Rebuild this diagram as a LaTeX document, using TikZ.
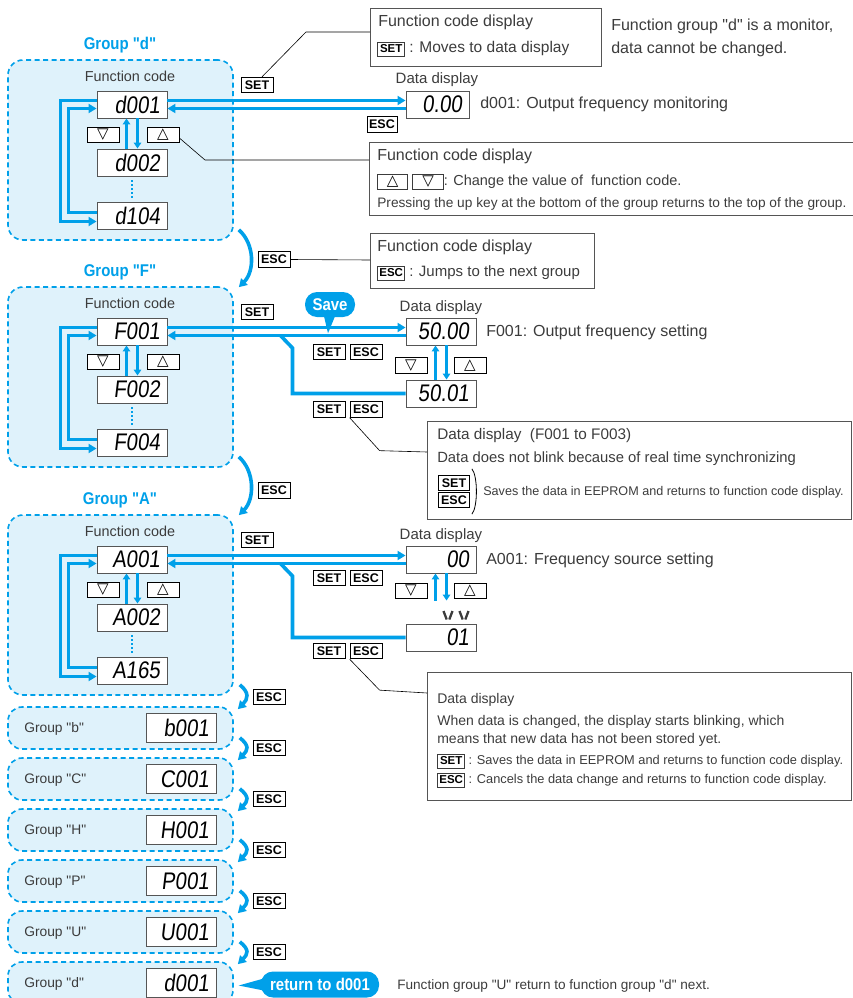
\documentclass[tikz,border=0pt]{standalone}
\usepackage{fontspec}
\setmainfont[Ligatures=TeXOff]{Liberation Sans}
\newfontfamily\condfont[FakeStretch=0.88,Ligatures=TeXOff]{Liberation Sans}
\newfontfamily\segfont[FakeStretch=0.85,FakeSlant=0.12]{Liberation Sans}
\newfontfamily\symfont{DejaVu Sans}
\usetikzlibrary{arrows.meta}
\definecolor{hcyan}{RGB}{0,160,233}
\definecolor{hpale}{RGB}{223,242,251}
\definecolor{inkgray}{RGB}{60,60,60}
\definecolor{framegray}{RGB}{85,85,85}
\newcommand{\fhdr}{\fontsize{16}{18}\selectfont}
\newcommand{\fbody}{\fontsize{14}{16}\selectfont}
\newcommand{\fsml}{\fontsize{13}{15}\selectfont}
\newcommand{\keyfont}{\fontsize{12.5}{13}\selectfont\bfseries}
\newcommand{\inkeyfont}{\fontsize{11.5}{12}\selectfont\bfseries}
\newcommand{\trdn}{{\symfont\fontsize{15}{15}\selectfont ▽}}
\newcommand{\trup}{{\symfont\fontsize{15}{15}\selectfont △}}
\newcommand{\keybox}[2][24pt]{{\setlength{\fboxsep}{1.2pt}\setlength{\fboxrule}{.7pt}%
 \fbox{\makebox[#1]{\color{black}\inkeyfont\rule[-2pt]{0pt}{11pt}#2}}}}
\tikzset{
 every picture/.style={line width=.6pt},
 txt/.style={text=inkgray,inner sep=0pt},
 grplbl/.style={text=hcyan,inner sep=0pt,font=\condfont\fontsize{17}{18}\selectfont\bfseries},
 grpbox/.style={draw=hcyan,fill=hpale,line width=1.6pt,dash pattern=on 5pt off 3.5pt,
  rounded corners=15pt,inner sep=0pt,minimum width=225pt},
 disp/.style={draw=framegray,fill=white,line width=.9pt,minimum width=70pt,minimum height=27pt,
  inner xsep=7pt,inner ysep=0pt,text width=56pt,align=right,font=\segfont\fontsize{24}{24}\selectfont},
 key/.style={draw=black,fill=white,line width=.8pt,minimum width=32pt,minimum height=15.5pt,
  inner sep=0pt,font=\keyfont},
 note/.style={draw=framegray,line width=.8pt,inner sep=0pt},
 lead/.style={draw=black,line width=.6pt},
 flow/.style={draw=hcyan,line width=3.6pt},
 flowarr/.style={flow,-{Triangle[length=8pt,width=9pt]}},
 updn/.style={draw=hcyan,line width=3pt,-{Triangle[length=6pt,width=7.5pt]}},
 dots/.style={draw=hcyan,line width=2pt,dash pattern=on 2pt off 2pt},
 bubble/.style={fill=hcyan,text=white,rounded corners=12pt,inner sep=0pt,
  font=\condfont\fontsize{17}{18}\selectfont\bfseries}
}

\begin{document}
\begin{tikzpicture}[x=1pt,y=-1pt]
 \useasboundingbox (0,0) rectangle (852,998);

 % The three open groups: d, F and A.
 \foreach \g/\yy/\ca/\cb/\cc in {d/0/d001/d002/d104,F/227/F001/F002/F004,A/455/A001/A002/A165}{
  \begin{scope}[shift={(0,\yy)}]
   \node[grplbl] (lbl\g) at (120,45) {Group "\g"};
   \node[grpbox,minimum height=180pt] (box\g) at (120.5,150) {};
   \node[txt,font=\fontsize{14.4}{16}\selectfont] (fc\g) at (130,76) {Function code};
   \node[disp] (top\g) at (132,104.5) {\ca};
   \node[disp] (mid\g) at (132,162.5) {\cb};
   \node[disp] (bot\g) at (132,215.5) {\cc};
   \node[key] (dn\g) at (103,135) {\trdn};
   \node[key] (up\g) at (163,135) {\trup};
   \draw[updn] ([xshift=-5.5pt]mid\g.north) -- ([xshift=-5.5pt]top\g.south);
   \draw[updn] ([xshift=5.5pt]top\g.south) -- ([xshift=5.5pt]mid\g.north);
   \draw[dots] ([yshift=-4pt]mid\g.south) -- ([yshift=3pt]bot\g.north);
   \draw[flowarr] ([yshift=4pt]top\g.west) -- ++(-36,0) |- ([yshift=-6pt]bot\g.west);
   \draw[flowarr] ([yshift=3pt]bot\g.west) -- ++(-28,0) |- ([yshift=-4pt]top\g.west);
   \node[key] (set\g) at (257,85) {SET};
  \end{scope}
 }

 % Group d: monitor only.
 \node[txt,font=\fontsize{15}{17}\selectfont] (ddl) at (437,80) {Data display};
 \node[disp,minimum width=63pt,text width=49pt] (datd) at (437.5,104.5) {0.00};
 \node[txt,anchor=west,font=\fontsize{16}{18}\selectfont] (dtx) at (480,104.5)
  {d001: Output frequency monitoring};
 \draw[flowarr] ([yshift=4pt]topd.east) -- ([yshift=4pt]datd.west);
 \draw[flowarr] ([yshift=-4pt]datd.west) -- ([yshift=-4pt]topd.east);
 \node[key,minimum width=30pt] (escdat) at (382,124.5) {ESC};

 \node[note,minimum width=231pt,minimum height=58pt,anchor=north west] (ncode) at (370,8) {};
 \node[txt,anchor=west,font=\fhdr] (ncode1) at (378,22) {Function code display};
 \node[txt,anchor=west,font=\fontsize{15.5}{17}\selectfont] (ncode2) at (377,49)
  {\keybox{SET} : Moves to data display};
 \draw[lead] ([yshift=-24pt]ncode.north west) -- ++(-64,0) -- ([xshift=5pt]setd.north);
 \node[txt,anchor=west,font=\fhdr] (mon1) at (611,26) {Function group "d" is a monitor,};
 \node[txt,anchor=west,font=\fhdr] (mon2) at (611,49) {data cannot be changed.};

 \node[note,minimum width=490pt,minimum height=73pt,anchor=north west] (nkeyd) at (369,142) {};
 \node[txt,anchor=west,font=\fhdr] (nkeyd1) at (377,156) {Function code display};
 \node[txt,anchor=west,font=\fontsize{14.5}{16}\selectfont] (nkeyd2) at (377,182)
  {\keybox[27pt]{\trup} \keybox[28pt]{\trdn}: Change the value of\ \ function code.};
 \node[txt,anchor=west,font=\fontsize{13.7}{16}\selectfont] (nkeyd3) at (377,204)
  {Pressing the up key at the bottom of the group returns to the top of the group.};
 \draw[lead] ([yshift=-18pt]nkeyd.north west) -- ++(-164,0) -- ([yshift=-3pt]upd.east);

 % Jumps between the open groups.
 \draw[flowarr] ([xshift=5pt,yshift=11pt]boxd.south east) .. controls +(16,14) and +(16,-16)
  .. ([xshift=5pt,yshift=-1pt]boxF.north east);
 \node[key] (escd) at (274,259.5) {ESC};
 \node[note,minimum width=224pt,minimum height=55pt,anchor=north west] (nescd) at (370,233) {};
 \node[txt,anchor=west,font=\fhdr] (nescd1) at (377,247) {Function code display};
 \node[txt,anchor=west,font=\fontsize{15}{17}\selectfont] (nescd2) at (377,273)
  {\keybox{ESC} : Jumps to the next group};
 \draw[lead] (escd.east) -- ([yshift=-27pt]nescd.north west);

 \draw[flowarr] ([xshift=5pt,yshift=11pt]boxF.south east) .. controls +(16,14) and +(16,-16)
  .. ([xshift=5pt,yshift=-1pt]boxA.north east);
 \node[key] (escF) at (274,490.5) {ESC};

 % Group F: data is written at once.
 \node[txt,font=\fontsize{15}{17}\selectfont] (Fdl) at (441,308) {Data display};
 \node[disp] (datF) at (441,331.5) {50.00};
 \node[disp] (datF2) at (441,393.5) {50.01};
 \node[txt,anchor=west,font=\fontsize{16}{18}\selectfont] (Ftx) at (486,332)
  {F001: Output frequency setting};
 \draw[flowarr] ([yshift=4pt]topF.east) -- ([yshift=4pt]datF.west);
 \draw[flowarr] ([yshift=-4pt]datF.west) -- ([yshift=-4pt]topF.east);
 \draw[flow] (datF2.west) -| ([xshift=125pt,yshift=-16.5pt]topF.east)
  -- ([xshift=113pt,yshift=-4pt]topF.east);
 \node[key] (dnF2) at (411,365.5) {\trdn};
 \node[key] (upF2) at (470,365.5) {\trup};
 \draw[updn] ([xshift=-5.5pt]datF2.north) -- ([xshift=-5.5pt]datF.south);
 \draw[updn] ([xshift=5.5pt]datF.south) -- ([xshift=5.5pt]datF2.north);
 \node[bubble,minimum width=50pt,minimum height=25pt] (save) at (330,304.5) {Save};
 \fill[hcyan] ([xshift=-6pt,yshift=1pt]save.south) -- ([xshift=-2pt,yshift=-16pt]save.south)
  -- ([xshift=5pt,yshift=1pt]save.south) -- cycle;
 \node[key] (setF1) at (329,352) {SET};
 \node[key] (escF1) at (366,352) {ESC};
 \node[key] (setF2) at (329,409.5) {SET};
 \node[key] (escF2) at (366,409.5) {ESC};

 \node[note,minimum width=424pt,minimum height=98pt,anchor=north west] (nsync) at (427,421) {};
 \node[txt,anchor=west,font=\fontsize{15.3}{17}\selectfont] (nsync1) at (437,436)
  {Data display\ \ (F001 to F003)};
 \node[txt,anchor=west,font=\fontsize{14.8}{17}\selectfont] (nsync2) at (437,459)
  {Data does not blink because of real time synchronizing};
 \node[key,minimum width=31pt] (nsyncs) at (454,483) {SET};
 \node[key,minimum width=31pt] (nsynce) at (454,500) {ESC};
 \draw[line width=.8pt] ([xshift=2pt,yshift=6pt]nsyncs.north east) .. controls +(6,7) and +(6,-7)
  .. ([xshift=2pt,yshift=-6pt]nsynce.south east);
 \node[txt,anchor=west,font=\fontsize{12.6}{15}\selectfont] (nsync3) at (483,492)
  {Saves the data in EEPROM and returns to function code display.};
 \draw[lead] (escF2.south west) -- ++(30,33) -- ([yshift=-31pt]nsync.north west);

 % Group A: data blinks until it is stored.
 \node[txt,font=\fontsize{15}{17}\selectfont] (Adl) at (441,536) {Data display};
 \node[disp] (datA) at (441,559.5) {00};
 \node[disp] (datA2) at (441,637.5) {01};
 \node[txt,anchor=west,font=\fontsize{16}{18}\selectfont] (Atx) at (486,560)
  {A001: Frequency source setting};
 \draw[flowarr] ([yshift=4pt]topA.east) -- ([yshift=4pt]datA.west);
 \draw[flowarr] ([yshift=-4pt]datA.west) -- ([yshift=-4pt]topA.east);
 \draw[flow] (datA2.west) -| ([xshift=125pt,yshift=-16.5pt]topA.east)
  -- ([xshift=113pt,yshift=-4pt]topA.east);
 \node[key] (dnA2) at (411,591) {\trdn};
 \node[key] (upA2) at (470,591) {\trup};
 \draw[updn] ([xshift=-5.5pt,yshift=23pt]datA2.north) -- ([xshift=-5.5pt]datA.south);
 \draw[updn] ([xshift=5.5pt]datA.south) -- ([xshift=5.5pt,yshift=23pt]datA2.north);
 \foreach \bx in {448,464}
  \draw[line width=2.3pt,inkgray] (\bx-4.5,611) -- (\bx-1.3,619.5) (\bx+4.5,611) -- (\bx+1.3,619.5);
 \node[key] (setA1) at (329,578) {SET};
 \node[key] (escA1) at (366,578) {ESC};
 \node[key] (setA2) at (329,651) {SET};
 \node[key] (escA2) at (366,651) {ESC};

 \node[note,minimum width=424pt,minimum height=128pt,anchor=north west] (nblink) at (427,672) {};
 \node[txt,anchor=west,font=\fbody] (nblink1) at (437,700) {Data display};
 \node[txt,anchor=west,font=\fbody] (nblink2) at (437,722)
  {When data is changed, the display starts blinking, which};
 \node[txt,anchor=west,font=\fbody] (nblink3) at (437,740) {means that new data has not been stored yet.};
 \node[txt,anchor=west,font=\fontsize{12.8}{15}\selectfont] (nblink4) at (437,761)
  {\keybox{SET} : Saves the data in EEPROM and returns to function code display.};
 \node[txt,anchor=west,font=\fontsize{12.8}{15}\selectfont] (nblink5) at (437,780)
  {\keybox{ESC} : Cancels the data change and returns to function code display.};
 \draw[lead] (escA2.south west) -- ++(30,31) -- ([yshift=-21pt]nblink.north west);

 % The closed groups, stepped through with ESC.
 \foreach \n/\code [count=\k from 0] in {b/b001,C/C001,H/H001,P/P001,U/U001,d/d001}{
  \pgfmathsetmacro\yc{728+51*\k}
  \node[grpbox,minimum height=42pt,rounded corners=14pt] (sg\k) at (120.5,\yc) {};
  \node[txt,anchor=west,font=\fontsize{13.8}{16}\selectfont] (sgl\k) at (24,\yc+1) {Group "\n"};
  \node[disp,minimum height=29pt] (sgd\k) at (181,\yc) {\code};
 }
 \draw[flowarr] ([xshift=6pt,yshift=11pt]boxA.south east) .. controls +(10,8) and +(10,-10)
  .. ([xshift=4pt,yshift=-3pt]sg0.north east);
 \node[key] (esc0) at (269,697) {ESC};
 \foreach \k [evaluate=\k as \j using int(\k+1)] in {0,...,4}{
  \draw[flowarr] ([xshift=6pt,yshift=12pt]sg\k.south east) .. controls +(10,8) and +(10,-10)
   .. ([xshift=4pt,yshift=-3pt]sg\j.north east);
  \node[key] (esc\j) at (269,748+51*\k) {ESC};
 }
 \node[bubble,minimum width=118pt,minimum height=26pt] (ret) at (320,984.5) {return to d001};
 \fill[hcyan] ([xshift=3pt,yshift=6pt]ret.west) -- ([xshift=-22pt,yshift=-1pt]ret.west)
  -- ([xshift=3pt,yshift=-6pt]ret.west) -- cycle;
 \node[txt,anchor=west,font=\fontsize{13.6}{15}\selectfont] (rettx) at (397,986)
  {Function group "U" return to function group "d" next.};
\end{tikzpicture}
\end{document}
